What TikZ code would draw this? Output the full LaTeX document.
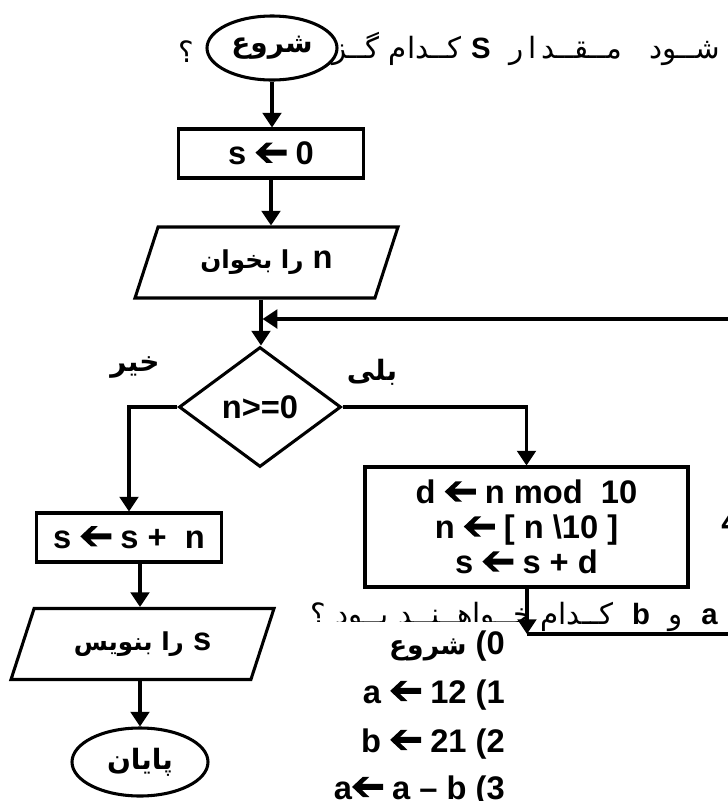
\documentclass[tikz,border=0pt]{standalone}
\usepackage{fontspec}
\setmainfont{Liberation Sans}
\newfontfamily\fa[Script=Arabic]{DejaVu Sans}
\TeXXeTstate=1
\usetikzlibrary{shapes.geometric,arrows.meta}
\newcommand{\larr}{\tikz[baseline=0pt,x=1em,y=1em]\fill (0,0.37)--(0.33,0.68)--(0.53,0.68)--(0.3,0.46)--(0.95,0.46)--(0.95,0.28)--(0.3,0.28)--(0.53,0.06)--(0.33,0.06)--cycle;}
\newcommand{\pf}{\fa\bfseries\fontsize{18.5}{20}\selectfont}
\tikzset{
  lw/.style={line width=2.3pt},
  latf/.style={font=\bfseries\fontsize{24.5}{26.25}\selectfont},
  proc/.style={draw, lw, rectangle, inner sep=0, latf},
  term/.style={draw, lw, ellipse, fill=white, inner sep=0, font=\fa\bfseries\fontsize{21}{24}\selectfont},
  io/.style={draw, lw, trapezium, trapezium left angle=47, trapezium right angle=133,
    trapezium stretches body, inner sep=0, minimum width=197.25pt, minimum height=53.25pt, latf},
  dec/.style={draw, lw, diamond, inner sep=0, minimum width=121.5pt, minimum height=90pt, latf},
  arr/.style={lw, -{Triangle[length=11pt,width=14pt]}},
  ln/.style={lw},
  lbl/.style={font=\fa\bfseries\fontsize{21}{24}\selectfont, inner sep=0},
  qtext/.style={font=\fa\fontsize{22}{24}\selectfont, inner sep=0},
  opt/.style={latf, inner sep=0, anchor=base east},
}
\begin{document}
\begin{tikzpicture}[x=0.75pt,y=-0.75pt]
\useasboundingbox (0,0) rectangle (728,801);
% question text behind start terminal
\node[qtext, anchor=base east] (q1) at (720,58) {\beginR شــود\ \ \ مــقــد\,ا\,ر\ \ {\normalfont\bfseries S}\ کــدام\ گــزیــنــه\endR};
\node[qtext] (qm) at (186,52) {؟};
\node[term, minimum width=97.5pt, minimum height=48pt] (start) at (272,48) {شروع};
\node[proc, minimum width=138.75pt, minimum height=36.75pt] (init) at (271,153.5) {s \larr{} 0};
\node[io] (in1) at (266.5,262.5) {\beginR n {\pf را بخوان}\endR};
\node[dec] (cond) at (260,407) {n>=0};
\node[lbl] (no) at (135,367) {خیر};
\node[lbl] (yes) at (372,372) {بلی};
\node[proc, minimum width=138.75pt, minimum height=36.75pt] (acc) at (129,537.5) {s \larr{} s +\ \ n};
\node[io] (out) at (142.5,644) {\beginR s {\pf را بنویس}\endR};
\node[term, minimum width=102pt, minimum height=51pt] (stop) at (140,762) {پایان};
\node[proc, minimum width=242.25pt, minimum height=90pt, align=center] (calc) at (526.5,527)
  {d \larr{} n mod\ \ 10\\ n \larr{} [ n \textbackslash10 ]\\ s \larr{} s + d};
\node[latf, anchor=base west, inner sep=0] (frag) at (721,533) {4};
% second question text, partly hidden
\begin{scope}
\clip (290,585) -- (740,585) -- (740,640) -- (527,640) -- (527,621) -- (290,621) -- cycle;
\node[qtext, anchor=base east] (q2) at (718,624) {\beginR {\normalfont\bfseries a}\ \ و\ \ {\normalfont\bfseries b}\ \ کــدام\ خــواهــنــد\ بــود\ ؟\endR};
\end{scope}
% options
\node[opt] (o0) at (505,654) {{\fa\bfseries\fontsize{20}{22}\selectfont شروع} (0};
\node[opt] (o1) at (505,703) {a \larr{} 12 (1};
\node[opt] (o2) at (505,752) {b \larr{} 21 (2};
\node[opt] (o3) at (505,799) {a\larr{} a – b (3};
% connectors
\coordinate (jn) at (261,319);
\coordinate (loopR) at (740,319);
\coordinate (botJ) at (527,634);
\coordinate (botR) at (740,634);
\draw[arr] (start.south) -- (start.south |- init.north);
\draw[arr] (init.south) -- (init.south |- in1.north);
\draw[arr] (in1.south -| jn) -- (jn |- cond.north);
\draw[arr] (loopR) -- ([xshift=1.2pt]jn);
\draw[arr] (cond.east) -| (calc.north);
\draw[arr] (cond.west) -| (acc.north);
\draw[arr] (acc.south -| stop.north) -- (stop.north |- out.north);
\draw[arr] (out.south -| stop.north) -- (stop.north);
\draw[arr] (calc.south -| botJ) -- (botJ);
\draw[ln] (botJ) -- (botR);
\end{tikzpicture}
\end{document}
